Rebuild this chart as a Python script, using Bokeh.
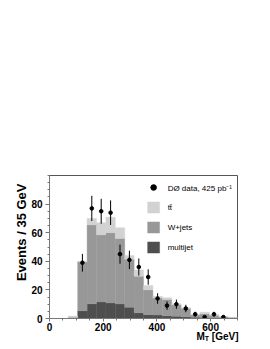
import numpy as np
from bokeh.plotting import figure
from bokeh.models import Range1d, FixedTicker, Legend, LegendItem, ColumnDataSource, Title
from bokeh.embed import file_html
from bokeh.resources import INLINE

# ---- data ----
bin_width = 35
bin_lefts = [0, 35, 70, 105, 140, 175, 210, 245, 280, 315, 350, 385, 420, 455, 490, 525, 560, 595, 630, 665]
data_counts = [0, 0, 0, 39, 77, 75, 74, 45, 41, 36, 29, 14, 9, 10, 7, 3, 1, 3, 1, 0]
data_err = [0, 0, 0, 6.2, 8.8, 8.7, 8.6, 6.7, 6.4, 6.0, 5.4, 3.7, 3.0, 3.2, 2.6, 1.7, 1.0, 1.7, 1.0, 0]
multijet = [0, 0, 0, 5.4, 10.3, 11.6, 10.9, 10.2, 7.8, 4.0, 2.7, 2.4, 1.9, 1.5, 1.2, 0.8, 0.7, 0.5, 0.3, 0.2]
wjets = [0, 0, 0.8, 34.1, 55.2, 46.9, 49.1, 45.8, 33.7, 25.5, 17.3, 11.9, 11.4, 8.0, 5.8, 1.7, 2.5, 1.8, 0.8, 0.5]
ttbar = [0, 0, 0.9, 0.5, 4.5, 8.5, 10.8, 7.5, 2.5, 4.5, 3.0, 1.2, 1.2, 0.8, 0.6, 0.3, 1.2, 0.3, 0.2, 0.1]
x_ticks = [0, 200, 400, 600]
y_ticks = [0, 20, 40, 60, 80]

FONT = "Liberation Sans"
C_TT = "#d2d2d2"
C_W = "#989898"
C_MJ = "#4e4e4e"

lefts = np.array(bin_lefts, dtype=float)
rights = lefts + bin_width
mj = np.array(multijet)
wj = np.array(wjets)
tt = np.array(ttbar)

p = figure(frame_width=188, frame_height=143,
           min_border_left=49, min_border_right=25, min_border_top=175, min_border_bottom=25,
           x_range=Range1d(0, 700), y_range=Range1d(0, 100),
           output_backend="svg", toolbar_location=None, tools="")
p.xgrid.visible = False
p.ygrid.visible = False
p.outline_line_color = "#555555"
p.outline_line_width = 1
p.background_fill_color = "white"

r_mj = p.quad(left=lefts, right=rights, bottom=0, top=mj, fill_color=C_MJ, line_color=C_MJ, line_width=0.4)
r_w = p.quad(left=lefts, right=rights, bottom=mj, top=mj + wj, fill_color=C_W, line_color=C_W, line_width=0.4)
r_tt = p.quad(left=lefts, right=rights, bottom=mj + wj, top=mj + wj + tt, fill_color=C_TT, line_color=C_TT, line_width=0.4)

cnt = np.array(data_counts, dtype=float)
err = np.array(data_err, dtype=float)
mask = cnt > 0
centers = (lefts + rights) / 2
src = ColumnDataSource(dict(x=centers[mask], y=cnt[mask], lo=cnt[mask] - err[mask], hi=cnt[mask] + err[mask]))
p.segment(x0="x", y0="lo", x1="x", y1="hi", source=src, line_color="black", line_width=1)
r_data = p.scatter(x="x", y="y", source=src, size=3.6, fill_color="black", line_color="black")

# axes
for ax in (p.xaxis[0], p.yaxis[0]):
    ax.axis_line_color = "#777777"
    ax.major_tick_line_color = "#777777"
    ax.minor_tick_line_color = "#777777"
    ax.major_label_text_font = FONT
    ax.major_label_text_font_style = "bold"
    ax.major_label_text_font_size = "10px"
    ax.major_label_text_color = "black"
    ax.major_tick_in = 0
    ax.minor_tick_in = 0

p.xaxis.ticker = FixedTicker(ticks=x_ticks, minor_ticks=list(range(0, 701, 50)))
p.yaxis.ticker = FixedTicker(ticks=y_ticks, minor_ticks=list(range(0, 101, 5)))
p.xaxis.major_tick_out = 3
p.xaxis.minor_tick_out = 2
p.xaxis.major_label_standoff = 1
p.yaxis.major_tick_out = 4
p.yaxis.minor_tick_out = 2
p.yaxis.major_label_standoff = 3

# axis titles (as side-panel titles, so they are not clipped by the frame)
p.add_layout(Title(text="Events / 35 GeV", align="right", offset=8,
                   text_font=FONT, text_font_style="bold", text_font_size="13px",
                   text_color="black", standoff=0), "left")
p.add_layout(Title(text="M\u2002\u2009[GeV]", align="right", offset=-1, vertical_align="top",
                   text_font=FONT, text_font_style="bold", text_font_size="10px",
                   text_color="black", standoff=-6), "below")
p.add_layout(Title(text="T", align="right", offset=28.5, vertical_align="top",
                   text_font=FONT, text_font_style="bold", text_font_size="7px",
                   text_color="black", standoff=-11), "below")

legend = Legend(items=[
    LegendItem(label="DØ data, 425 pb⁻¹", renderers=[r_data]),
    LegendItem(label="tt̄", renderers=[r_tt]),
    LegendItem(label="W+jets", renderers=[r_w]),
    LegendItem(label="multijet", renderers=[r_mj]),
], location="top_right", margin=5, padding=0, border_line_color=None,
    background_fill_alpha=0, glyph_width=15, glyph_height=14, label_height=14,
    spacing=6, label_standoff=7, label_text_font_size="8px", label_text_font=FONT,
    label_text_color="black")
p.add_layout(legend)

open("out.html", "w").write(file_html(p, INLINE))
